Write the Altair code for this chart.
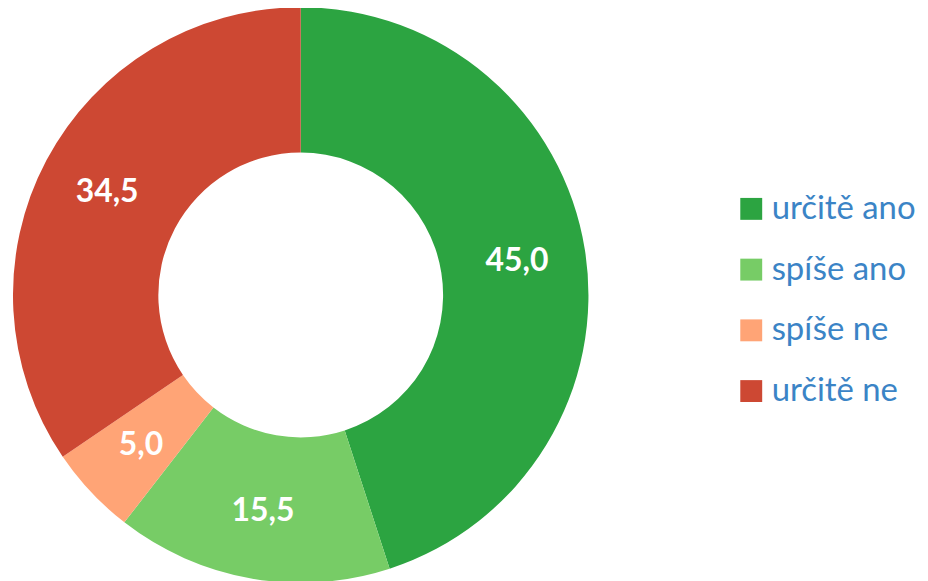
import altair as alt
import pandas as pd

# ── Data ─────────────────────────────────────────────────────────────────────
categories = ["určitě ano", "spíše ano", "spíše ne", "určitě ne"]
values = [45.0, 15.5, 5.0, 34.5]
value_labels = ["45,0", "15,5", "5,0", "34,5"]
colors = ["#2ca441", "#77cc66", "#ffa476", "#cd4833"]

df = pd.DataFrame({
    "kategorie": categories,
    "hodnota": values,
    "popisek": value_labels,
    "poradi": list(range(len(categories))),
})

# ── Base donut ───────────────────────────────────────────────────────────────
base = alt.Chart(df).encode(
    theta=alt.Theta("hodnota:Q", stack=True),
    order=alt.Order("poradi:Q"),
    x=alt.value(294),
    y=alt.value(287),
)

arcs = base.mark_arc(innerRadius=143, outerRadius=289).encode(
    color=alt.Color(
        "kategorie:N",
        scale=alt.Scale(domain=categories, range=colors),
        sort=categories,
        legend=alt.Legend(
            title=None,
            orient="none",
            legendX=730,
            legendY=184,
            symbolType="square",
            symbolSize=484,
            symbolStrokeWidth=0,
            labelFontSize=33,
            labelFont="Lato",
            labelColor="#3b84c6",
            labelOffset=4,
            labelLimit=0,
            rowPadding=27,
        ),
    )
)

labels = base.mark_text(
    radius=220, fontSize=32, fontWeight="bold", font="Lato", color="white"
).encode(text="popisek:N")

chart = (
    (arcs + labels)
    .properties(
        width=916,
        height=573,
        autosize=alt.AutoSizeParams(type="none"),
        padding=0,
    )
    .configure_view(stroke=None)
)

chart.save("out.html", embed_options={"renderer": "svg", "actions": False})
